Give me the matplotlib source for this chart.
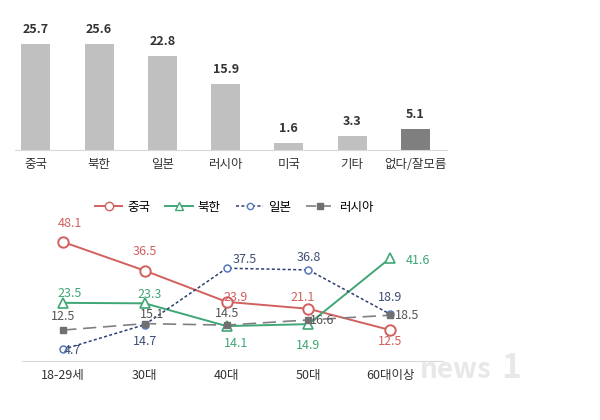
import matplotlib
matplotlib.use('Agg')
from matplotlib import pyplot as plt
from matplotlib.lines import Line2D

plt.rcParams['font.family'] = ['Noto Sans CJK KR', 'DejaVu Sans']

# 상단 막대 데이터
bar_labels = ['중국', '북한', '일본', '러시아', '미국', '기타', '없다/잘모름']
bar_values = [25.7, 25.6, 22.8, 15.9, 1.6, 3.3, 5.1]
bar_colors = ['#c0c0c0'] * 6 + ['#7f7f7f']

# 하단 연령대별 데이터
ages = ['18-29세', '30대', '40대', '50대', '60대이상']
china = [48.1, 36.5, 23.9, 21.1, 12.5]
nkorea = [23.5, 23.3, 14.1, 14.9, 41.6]
japan = [4.7, 14.7, 37.5, 36.8, 18.9]
russia = [12.5, 15.1, 14.5, 16.6, 18.5]

fig = plt.figure(figsize=(6, 4.2), dpi=100)

# ---- 막대 그래프
ax1 = fig.add_axes([0.025, 0.643, 0.72, 0.31])
x = list(range(len(bar_values)))
ax1.bar(x, bar_values, width=0.46, color=bar_colors)
for i, v in enumerate(bar_values):
    ax1.annotate('{}'.format(v), (i, v), xytext=(0, 8), textcoords='offset pixels',
                 ha='center', va='bottom', fontsize=9, fontweight='bold', color='#333333')
ax1.set_xlim(-0.33, 6.5)
ax1.set_ylim(0, 31.5)
ax1.set_xticks(x)
ax1.set_xticklabels(bar_labels, fontsize=9, color='#333333')
ax1.tick_params(axis='x', length=0, pad=6)
ax1.set_yticks([])
for s in ['top', 'right', 'left']:
    ax1.spines[s].set_visible(False)
ax1.spines['bottom'].set_color('#d9d9d9')

# ---- 꺾은선 그래프
ax2 = fig.add_axes([0.037, 0.1405, 0.702, 0.324])
xs = list(range(len(ages)))
c_red = '#d2605f'
c_green = '#3fa776'
c_blue = '#2e3f73'
c_blue_m = '#5577bb'
c_gray = '#808080'

ax2.plot(xs, china, color=c_red, lw=1.4, marker='o', ms=7.5, mfc='white', mec=c_red, mew=1.4)
ax2.plot(xs, nkorea, color=c_green, lw=1.4, marker='^', ms=7, mfc='white', mec=c_green, mew=1.2)
ax2.plot(xs, japan, color=c_blue, lw=1.1, ls=(0, (2, 1.5)), marker='o', ms=5, mfc='white', mec=c_blue_m, mew=1.1)
ax2.plot(xs, russia, color=c_gray, lw=1.2, ls=(0, (8, 4)), marker='s', ms=5, mfc='#707070', mec='#707070')

def lab(xv, yv, txt, dx, dy, color):
    ax2.annotate(txt, (xv, yv), xytext=(dx, dy), textcoords='offset pixels',
                 ha='center', va='center', fontsize=9, color=color)

china_off = [(7, 18), (0, 19), (9, 4), (-6, 11), (0, -11)]
nk_off = [(7, 9), (5, 9), (9, -17), (0, -21), (28, -2)]
jp_off = [(9, -1), (0, -17), (18, 9), (0, 12), (0, 17)]
ru_off = [(0, 14), (7, 9), (0, 12), (14, -1), (17, 0)]
label_color_jp = '#3d4f75'
for i in xs:
    lab(i, china[i], '{}'.format(china[i]), china_off[i][0], china_off[i][1], c_red)
    lab(i, nkorea[i], '{}'.format(nkorea[i]), nk_off[i][0], nk_off[i][1], c_green)
    lab(i, japan[i], '{}'.format(japan[i]), jp_off[i][0], jp_off[i][1], label_color_jp)
    lab(i, russia[i], '{}'.format(russia[i]), ru_off[i][0], ru_off[i][1], '#555555')

ax2.set_xlim(-0.5, 4.65)
ax2.set_ylim(0, 55)
ax2.set_xticks(xs)
ax2.set_xticklabels(ages, fontsize=9, color='#333333')
ax2.tick_params(axis='x', length=0, pad=6)
ax2.set_yticks([])
for s in ['top', 'right', 'left']:
    ax2.spines[s].set_visible(False)
ax2.spines['bottom'].set_color('#d9d9d9')

handles = [
    Line2D([], [], color=c_red, lw=1.4, marker='o', ms=6, mfc='white', mec=c_red),
    Line2D([], [], color=c_green, lw=1.4, marker='^', ms=6, mfc='white', mec=c_green),
    Line2D([], [], color=c_blue, lw=1.1, ls=(0, (2, 1.5)), marker='o', ms=4.5, mfc='white', mec=c_blue_m),
    Line2D([], [], color=c_gray, lw=1.2, ls=(0, (6, 3)), marker='s', ms=4, mfc='#707070', mec='#707070'),
]
fig.legend(handles, ['중국', '북한', '일본', '러시아'], loc='center', bbox_to_anchor=(0.39, 1 - 207 / 420),
           ncol=4, frameon=False, fontsize=9, handlelength=2.2, columnspacing=1.2, handletextpad=0.4)

# 워터마크
fig.text(0.70, 0.118, 'news', fontsize=20, style='italic', color='#e8e8e8', ha='left', va='center',
         fontweight='bold', zorder=0)
fig.text(0.835, 0.123, '1', fontsize=24, style='italic', color='#e8e8e8', ha='left', va='center',
         fontweight='bold', zorder=0)

fig.savefig('out.png', dpi=100)
